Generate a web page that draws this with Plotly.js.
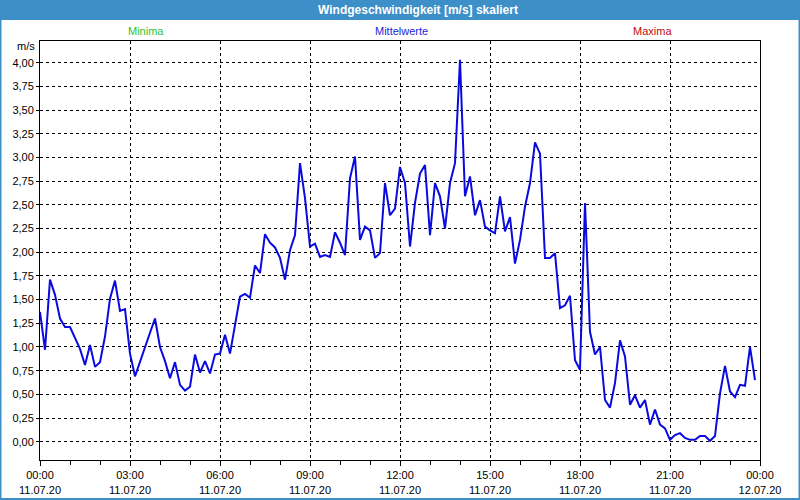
<!DOCTYPE html>
<html>
<head>
<meta charset="utf-8">
<script src="https://cdn.plot.ly/plotly-3.0.1.min.js"></script>
<style>
html,body{margin:0;padding:0;background:#fff;}
#chart{width:800px;height:500px;}
</style>
</head>
<body>
<div id="chart"></div>
<script>
// Data: 10-minute mean wind speed, 11.07.20 00:00 .. 23:50
var startTime = "2020-07-11 00:00";
var stepMinutes = 10;
var meanValues = [
  1.37, 0.97, 1.71, 1.55, 1.30, 1.21, 1.21, 1.10, 0.98, 0.81,
  1.02, 0.79, 0.84, 1.11, 1.51, 1.70, 1.38, 1.40, 0.93, 0.69,
  0.85, 1.00, 1.15, 1.30, 1.00, 0.85, 0.67, 0.84, 0.60, 0.54,
  0.58, 0.92, 0.73, 0.85, 0.72, 0.92, 0.93, 1.13, 0.93, 1.23,
  1.53, 1.56, 1.52, 1.86, 1.78, 2.19, 2.10, 2.05, 1.94, 1.71,
  2.02, 2.18, 2.94, 2.57, 2.06, 2.09, 1.95, 1.97, 1.95, 2.21,
  2.10, 1.97, 2.78, 3.01, 2.13, 2.27, 2.23, 1.94, 1.99, 2.73,
  2.39, 2.46, 2.90, 2.73, 2.06, 2.52, 2.83, 2.92, 2.18, 2.73,
  2.59, 2.25, 2.73, 2.94, 4.03, 2.59, 2.80, 2.39, 2.55, 2.27,
  2.23, 2.20, 2.59, 2.22, 2.37, 1.88, 2.13, 2.48, 2.73, 3.16,
  3.04, 1.94, 1.94, 1.99, 1.41, 1.44, 1.54, 0.86, 0.76, 2.52,
  1.16, 0.92, 1.00, 0.44, 0.36, 0.62, 1.07, 0.90, 0.39, 0.49,
  0.36, 0.44, 0.18, 0.34, 0.18, 0.14, 0.02, 0.07, 0.09, 0.04,
  0.02, 0.02, 0.06, 0.06, 0.01, 0.06, 0.51, 0.80, 0.53, 0.47,
  0.60, 0.59, 1.00, 0.65
];
var xTickVals = ["2020-07-11 00:00","2020-07-11 03:00","2020-07-11 06:00","2020-07-11 09:00",
                 "2020-07-11 12:00","2020-07-11 15:00","2020-07-11 18:00","2020-07-11 21:00","2020-07-12 00:00"];
var xTickText = ["00:00<br>11.07.20","03:00<br>11.07.20","06:00<br>11.07.20","09:00<br>11.07.20",
                 "12:00<br>11.07.20","15:00<br>11.07.20","18:00<br>11.07.20","21:00<br>11.07.20","00:00<br>12.07.20"];
var yTickVals = [0,0.25,0.5,0.75,1,1.25,1.5,1.75,2,2.25,2.5,2.75,3,3.25,3.5,3.75,4];
var legendLabels = ["Minima","Mittelwerte","Maxima"];
var legendColors = ["#2ec42e","#2424d8","#c00a0a"];
var chartTitle = "Windgeschwindigkeit [m/s] skaliert";
var unitLabel = "m/s";

function pad(n){return (n<10?"0":"")+n;}
var t0 = new Date(startTime.replace(" ","T")+":00Z");
var times = meanValues.map(function(v,i){
  var d = new Date(t0.getTime()+i*stepMinutes*60000);
  return d.getUTCFullYear()+"-"+pad(d.getUTCMonth()+1)+"-"+pad(d.getUTCDate())+" "+pad(d.getUTCHours())+":"+pad(d.getUTCMinutes());
});

var FONT = "Liberation Sans, Arial, sans-serif";
var W=800,H=500,L=40,R=40,T=41,B=40;
var pw=W-L-R, ph=H-T-B;
function px2paperX(px){return (px-L)/pw;}
function px2paperY(py){return (H-B-py)/ph;}

var trace = {
  x: times, y: meanValues, type:"scatter", mode:"lines",
  line:{color:"#0a0ae0", width:2}, hoverinfo:"x+y", showlegend:false
};

var annotations = [
  {text:"<b>"+chartTitle+"</b>", xref:"paper", yref:"paper", x:px2paperX(418), y:px2paperY(10),
   showarrow:false, font:{family:FONT, size:12, color:"#ffffff"}, xanchor:"center", yanchor:"middle"},
  {text:unitLabel, xref:"paper", yref:"paper", x:px2paperX(37), y:px2paperY(46),
   showarrow:false, font:{family:FONT, size:11, color:"#000"}, xanchor:"right", yanchor:"middle"}
];
var legendX = [146, 401, 652];
legendLabels.forEach(function(lbl,i){
  annotations.push({text:lbl, xref:"paper", yref:"paper", x:px2paperX(legendX[i]), y:px2paperY(31),
    showarrow:false, font:{family:FONT, size:11, color:legendColors[i]}, xanchor:"center", yanchor:"middle"});
});

var shapes = [
  {type:"rect", xref:"paper", yref:"paper", x0:px2paperX(0), x1:px2paperX(800), y0:px2paperY(20), y1:px2paperY(0),
   fillcolor:"#3d8fc8", line:{width:0}, layer:"below"},
  {type:"rect", xref:"paper", yref:"paper", x0:px2paperX(0.5), x1:px2paperX(799.5), y0:px2paperY(499), y1:px2paperY(0.5),
   fillcolor:"rgba(0,0,0,0)", line:{color:"#3d8fc8", width:2}, layer:"above"}
];

var layout = {
  width:W, height:H,
  margin:{l:L, r:R, t:T, b:B, pad:0},
  paper_bgcolor:"#ffffff", plot_bgcolor:"#ffffff",
  font:{family:FONT, size:11, color:"#000"},
  showlegend:false,
  xaxis:{
    type:"date", range:["2020-07-11 00:00","2020-07-12 00:00"],
    tickmode:"array", tickvals:xTickVals, ticktext:xTickText,
    ticks:"outside", ticklen:5, tickcolor:"#000", tickwidth:1,
    showgrid:true, gridcolor:"#000", gridwidth:1, griddash:"3px,3px",
    showline:true, linecolor:"#000", linewidth:1, mirror:true,
    zeroline:false, tickfont:{family:FONT, size:11, color:"#000"},
    minor:{tickmode:"linear", tick0:"2020-07-11 00:00", dtick:3600000, ticks:"outside", ticklen:4, tickcolor:"#000", showgrid:false},
    fixedrange:true
  },
  yaxis:{
    range:[-0.193, 4.229],
    tickmode:"array", tickvals:yTickVals, tickformat:".2f",
    ticks:"outside", ticklen:3, tickcolor:"#000",
    showgrid:true, gridcolor:"#000", gridwidth:1, griddash:"3px,3px",
    showline:true, linecolor:"#000", linewidth:1, mirror:true,
    zeroline:false, tickfont:{family:FONT, size:11, color:"#000"},
    fixedrange:true
  },
  separators:",.",
  annotations:annotations,
  shapes:shapes
};

Plotly.newPlot("chart",[trace],layout,{displayModeBar:false, staticPlot:true});
</script>
</body>
</html>
